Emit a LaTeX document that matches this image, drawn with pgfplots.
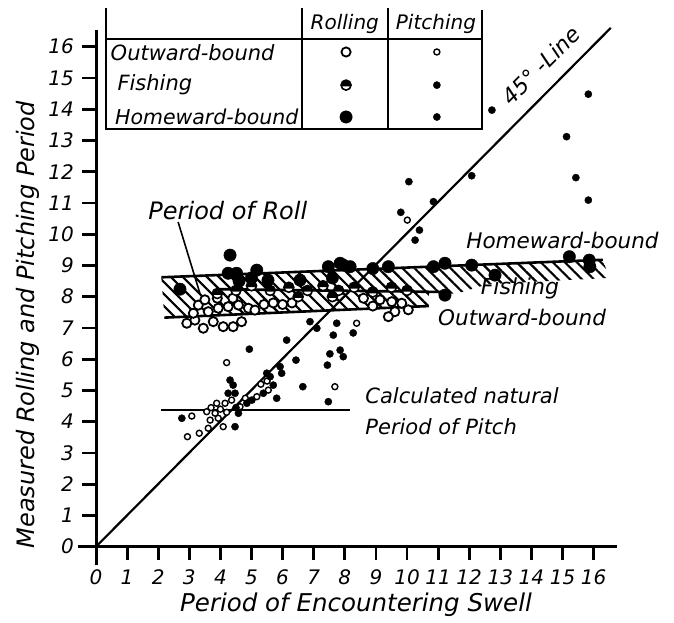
\documentclass[border=0pt]{standalone}
\usepackage{pgfplots}
\pgfplotsset{compat=1.18}
\usepackage{fontspec}
\setmainfont{DejaVu Sans}
\usetikzlibrary{patterns.meta,plotmarks}

% half-filled circle for the "Fishing" rolling mark
\pgfdeclareplotmark{halfdisk}{%
  \pgfpathcircle{\pgfpointorigin}{\pgfplotmarksize}%
  \pgfsetfillcolor{white}%
  \pgfusepathqfillstroke
  \pgfpathmoveto{\pgfpointpolar{-15}{\pgfplotmarksize}}%
  \pgfpatharc{-15}{195}{\pgfplotmarksize}%
  \pgfpathclose
  \pgfsetfillcolor{black}%
  \pgfusepathqfill
}

\pgfplotsset{
  rollout/.style={only marks, mark=*, mark size=4.6pt, mark options={draw=black, fill=white, line width=1.8pt}},
  rollfish/.style={only marks, mark=halfdisk, mark size=5pt, mark options={draw=black, line width=1.6pt}},
  rollhome/.style={only marks, mark=*, mark size=6.2pt, mark options={draw=black, fill=black}},
  pitchout/.style={only marks, mark=*, mark size=3pt, mark options={draw=black, fill=white, line width=1.4pt}},
  pitchfill/.style={only marks, mark=*, mark size=3.6pt, mark options={draw=black, fill=black}},
  hatch/.style={draw=none, pattern={Lines[angle=-45,distance=8.5pt,line width=2.2pt]}},
  thickline/.style={black, line width=2.6pt, no marks},
}

\begin{document}
\begin{tikzpicture}
% the axis box is the whole picture; the drawn axes cross at (0,0)
\begin{axis}[
    x=31.1pt, y=31.25pt,
    xmin=-3.087, xmax=18.585, ymin=-2.442, ymax=17.494,
    hide axis,
    clip=false,
]
\addplot[draw=none, no marks, forget plot] coordinates {(-3.087,-2.442) (18.585,17.494)};

% axes, ticks and tick labels
\addplot[black, line width=3pt, no marks, forget plot] coordinates {(-0.58,0) (16.75,0)};
\addplot[black, line width=3pt, no marks, forget plot] coordinates {(0,-0.6) (0,16.53)};
\pgfplotsinvokeforeach{1,...,16}{
  \draw[line width=2.8pt] (axis cs:#1,0) -- (axis cs:#1,-0.42);
  \draw[line width=2.8pt] (axis cs:0,#1) -- (axis cs:-0.45,#1);
}
\pgfplotsinvokeforeach{0,...,16}{
  \node[font=\fontsize{20}{20}\selectfont\itshape] at (axis cs:#1,-0.98) {#1};
  \node[anchor=east, font=\fontsize{20}{20}\selectfont\itshape] at (axis cs:-0.6,#1) {#1};
}
\node[font=\fontsize{24.5}{26}\selectfont\itshape] at (axis cs:8.36,-1.87) {Period of Encountering Swell};
\node[rotate=90, font=\fontsize{24}{26}\selectfont\itshape] at (axis cs:-2.19,7.1) {Measured Rolling and Pitching Period};

% hatched bands
\addplot[hatch, forget plot] coordinates {(2.1,8.62) (10.7,8.92) (10.7,7.7) (2.2,7.33)} -- cycle;
\addplot[hatch, forget plot] coordinates {(10.7,8.92) (16.3,9.18) (16.5,8.6) (12.6,8.4) (11.6,8.1) (10.7,8.1)} -- cycle;

% band lines
\addplot[thickline] coordinates {(2.1,8.62) (16.3,9.18)};
\addplot[thickline] coordinates {(3.9,8.24) (11.2,8.15)};
\addplot[thickline] coordinates {(2.2,7.33) (10.7,7.7)};
% calculated natural period of pitch
\addplot[thickline] coordinates {(2.09,4.37) (8.17,4.37)};
% 45 degree line
\addplot[black, line width=2.2pt, no marks] coordinates {(0,0) (16.55,16.6)};
% leader of "Period of Roll"
\addplot[black, line width=1.6pt, no marks] coordinates {(2.64,10.39) (3.34,8.11)};

% rolling, outward-bound
\addplot[rollout] coordinates {
 (3.29,7.73) (3.61,7.52) (3.93,7.63) (4.25,7.68) (4.58,7.73) (4.9,7.63) (5.11,7.57)
 (2.92,7.15) (3.18,7.25) (3.45,6.99) (3.77,7.2) (4.09,7.04) (4.41,7.04) (4.68,7.2)
 (3.13,7.47) (3.5,7.9) (3.9,7.95) (4.4,7.95) (5.4,7.75) (5.7,7.8) (6.0,7.75) (6.3,7.8)
 (9.13,7.9) (9.51,7.84) (9.83,7.79) (10.04,7.58) (9.61,7.52) (9.4,7.36) (8.6,7.95) (8.9,7.7)
};
% rolling, fishing
\addplot[rollfish] coordinates {
 (3.9,8.1) (4.5,8.2) (5.0,8.35) (5.6,8.2) (6.2,8.3) (6.8,8.2) (7.3,8.35) (7.8,8.2)
 (8.3,8.3) (8.9,8.15) (9.5,8.3) (10.0,8.2) (6.5,8.0) (7.6,8.0)
};
% rolling, homeward-bound
\addplot[rollhome] coordinates {
 (4.31,9.33) (2.70,8.24) (4.25,8.75) (4.52,8.75) (5.17,8.85) (5.53,8.53) (6.56,8.53)
 (7.47,8.96) (7.95,9.01) (7.85,9.07) (8.17,8.96) (9.4,8.96) (10.85,8.96) (11.22,9.07)
 (12.08,9.01) (12.83,8.69) (15.22,9.28) (15.86,9.17) (15.88,8.96) (11.22,8.05)
 (8.9,8.9) (7.6,8.6) (4.6,8.5) (5.0,8.6)
};
% pitching, outward-bound
\addplot[pitchout] coordinates {
 (10.01,10.45) (8.38,7.15) (4.2,5.89) (7.68,5.12) (3.08,4.18) (2.94,3.52) (3.32,3.63)
 (3.61,3.79) (4.09,3.84) (3.88,4.59) (4.15,4.59) (4.36,4.69) (3.56,4.32) (3.83,4.27)
 (3.67,4.05) (3.93,4.11) (4.63,4.48) (5.17,4.8) (5.54,5.01) (4.0,4.4) (4.2,4.3)
 (3.7,4.45) (5.3,5.2) (5.5,5.3) (4.8,4.75)
};
% pitching, fishing and homeward-bound
\addplot[pitchfill] coordinates {
 (12.73,13.97) (15.83,14.48) (15.13,13.12) (15.43,11.81) (15.83,11.09) (12.08,11.87)
 (10.06,11.68) (10.85,11.04) (9.80,10.70) (10.40,10.13) (10.26,9.81)
 (7.74,7.15) (8.27,6.84) (7.63,6.77) (7.85,6.29) (7.95,6.08) (7.52,6.17) (6.43,5.97)
 (7.44,5.81) (5.92,5.76) (5.97,5.55) (5.49,5.55) (5.6,5.44) (6.65,5.12) (5.81,4.75)
 (7.47,4.64) (4.93,6.32) (6.13,6.61) (7.1,6.99) (6.88,7.2) (4.31,5.33) (4.41,5.17)
 (4.25,4.91) (4.47,4.91) (2.76,4.11) (4.47,3.84) (4.58,4.27) (4.5,4.45) (5.01,4.69)
 (5.38,4.91) (5.7,5.17) (4.85,4.59)
};

% key table
\draw[line width=2pt] (axis cs:0.31,17.24) -- (axis cs:0.31,13.35) -- (axis cs:12.40,13.35) -- (axis cs:12.40,17.18);
\draw[line width=2pt] (axis cs:0.31,16.24) -- (axis cs:12.40,16.24);
\draw[line width=2pt] (axis cs:6.61,17.24) -- (axis cs:6.61,13.35);
\draw[line width=2pt] (axis cs:9.40,17.24) -- (axis cs:9.40,13.35);
\node[font=\fontsize{20}{20}\selectfont\itshape] at (axis cs:8.0,16.73) {Rolling};
\node[font=\fontsize{20}{20}\selectfont\itshape] at (axis cs:10.93,16.73) {Pitching};
\node[anchor=west, font=\fontsize{21}{21}\selectfont\itshape] at (axis cs:0.36,15.8) {Outward-bound};
\node[anchor=west, font=\fontsize{21}{21}\selectfont\itshape] at (axis cs:0.58,14.77) {Fishing};
\node[anchor=west, font=\fontsize{20.5}{21}\selectfont\itshape] at (axis cs:0.5,13.75) {Homeward-bound};
\addplot[rollout, forget plot] coordinates {(8.04,15.83)};
\addplot[rollfish, forget plot] coordinates {(8.04,14.77)};
\addplot[rollhome, forget plot] coordinates {(8.04,13.75)};
\addplot[pitchout, forget plot] coordinates {(10.96,15.83)};
\addplot[pitchfill, forget plot] coordinates {(10.96,14.77)};
\addplot[pitchfill, forget plot] coordinates {(10.96,13.75)};

% annotations
\node[font=\fontsize{24}{24}\selectfont\itshape] at (axis cs:4.24,10.77) {Period of Roll};
\node[font=\fontsize{21.5}{21.5}\selectfont\itshape] at (axis cs:15.0,9.81) {Homeward-bound};
\node[font=\fontsize{22}{22}\selectfont\itshape] at (axis cs:13.63,8.28) {Fishing};
\node[font=\fontsize{21.5}{21.5}\selectfont\itshape] at (axis cs:13.7,7.32) {Outward-bound};
\node[anchor=west, align=left, font=\fontsize{21}{31}\selectfont\itshape] at (axis cs:8.55,4.35) {Calculated natural\\Period of Pitch};
\node[rotate=45, font=\fontsize{22}{22}\selectfont\itshape] at (axis cs:14.3,15.4) {45° -Line};
\end{axis}
\end{tikzpicture}
\end{document}
